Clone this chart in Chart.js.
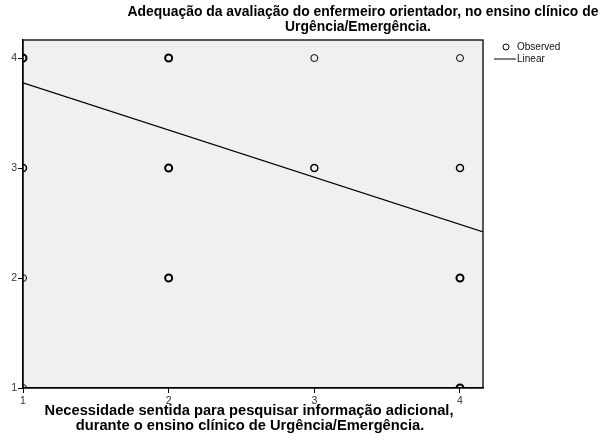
<!DOCTYPE html>
<html>
<head>
<meta charset="utf-8">
<script src="https://cdn.jsdelivr.net/npm/chart.js@4"></script>
<style>
html,body{margin:0;padding:0;background:#fff;}
#wrap{width:601px;height:444px;position:relative;}
</style>
</head>
<body>
<div id="wrap"><canvas id="c" width="601" height="444"></canvas></div>
<script>
// ---- data ----
const titleLines = ["Adequação da avaliação do enfermeiro orientador, no ensino clínico de", "Urgência/Emergência."];
const xTitleLines = ["Necessidade sentida para pesquisar informação adicional,", "durante o ensino clínico de Urgência/Emergência."];
const legendLabels = ["Observed", "Linear"];
const obsX = [1, 1, 1, 1, 2, 2, 2, 3, 3, 4, 4, 4, 4];
const obsY = [4, 3, 2, 1, 4, 3, 2, 4, 3, 4, 3, 2, 1];
const obsCount = [3, 2, 1, 1, 3, 3, 3, 1, 2, 1, 2, 3, 3];
const fitX = [1, 4.16];
const fitY = [3.775, 2.418];
const xTicks = [1, 2, 3, 4];
const yTicks = [1, 2, 3, 4];

const obsData = obsX.map((x, i) => ({x: x, y: obsY[i]}));
const fitData = fitX.map((x, i) => ({x: x, y: fitY[i]}));
const widthFor = n => n >= 3 ? 2 : (n === 2 ? 1.5 : 1);
const FONT = '"Liberation Sans", Arial, sans-serif';

const framePlugin = {
  id: 'frame',
  beforeDraw(chart) {
    const {ctx, chartArea: a} = chart;
    ctx.save();
    ctx.fillStyle = '#f0f0f0';
    ctx.fillRect(a.left, a.top, a.right - a.left, a.bottom - a.top);
    ctx.restore();
  },
  afterDraw(chart) {
    const {ctx, chartArea: a} = chart;
    ctx.save();
    ctx.strokeStyle = '#000';
    ctx.lineWidth = 1.3;
    ctx.strokeRect(a.left, a.top, a.right - a.left, a.bottom - a.top);
    // titles
    ctx.fillStyle = '#000';
    ctx.textAlign = 'center';
    ctx.textBaseline = 'middle';
    ctx.font = 'bold 13.9px ' + FONT;
    ctx.fillText(titleLines[0], 363, 12);
    ctx.fillText(titleLines[1], 358, 27);
    ctx.font = 'bold 14.7px ' + FONT;
    ctx.fillText(xTitleLines[0], 249, 411);
    ctx.fillText(xTitleLines[1], 250, 426);
    // legend
    ctx.textAlign = 'left';
    ctx.font = '10px ' + FONT;
    ctx.fillStyle = '#111';
    ctx.fillText(legendLabels[0], 517, 47);
    ctx.fillText(legendLabels[1], 517, 59);
    ctx.lineWidth = 1;
    ctx.beginPath();
    ctx.arc(506, 47, 3, 0, Math.PI * 2);
    ctx.stroke();
    ctx.beginPath();
    ctx.moveTo(494, 59);
    ctx.lineTo(516, 59);
    ctx.stroke();
    ctx.restore();
  }
};

new Chart(document.getElementById('c'), {
  type: 'scatter',
  data: {
    datasets: [
      {
        label: legendLabels[0],
        data: obsData,
        showLine: false,
        pointStyle: 'circle',
        pointRadius: 3.5,
        pointBackgroundColor: 'rgba(0,0,0,0)',
        pointBorderColor: '#000',
        pointBorderWidth: obsCount.map(widthFor)
      },
      {
        label: legendLabels[1],
        data: fitData,
        showLine: true,
        borderColor: '#000',
        borderWidth: 1.2,
        pointRadius: 0,
        fill: false
      }
    ]
  },
  options: {
    responsive: false,
    animation: false,
    events: [],
    layout: {padding: {left: 0, top: 40, right: 118, bottom: 0}},
    plugins: {legend: {display: false}, title: {display: false}, tooltip: {enabled: false}},
    scales: {
      x: {
        type: 'linear',
        min: 1, max: 4.158,
        afterFit: s => { s.height = 56; },
        afterBuildTicks: s => { s.ticks = xTicks.map(v => ({value: v})); },
        ticks: {font: {family: FONT, size: 10.5}, color: '#333', padding: 2, includeBounds: false},
        grid: {drawOnChartArea: false, tickLength: 5, color: '#000', tickColor: '#000', lineWidth: 1},
        border: {color: '#000', width: 1.3}
      },
      y: {
        type: 'linear',
        min: 1, max: 4.164,
        afterFit: s => { s.width = 23; },
        afterBuildTicks: s => { s.ticks = yTicks.map(v => ({value: v})); },
        ticks: {font: {family: FONT, size: 10.5}, color: '#333', padding: 1, includeBounds: false},
        grid: {drawOnChartArea: false, tickLength: 5, color: '#000', tickColor: '#000', lineWidth: 1},
        border: {color: '#000', width: 1.3}
      }
    }
  },
  plugins: [framePlugin]
});
</script>
</body>
</html>
